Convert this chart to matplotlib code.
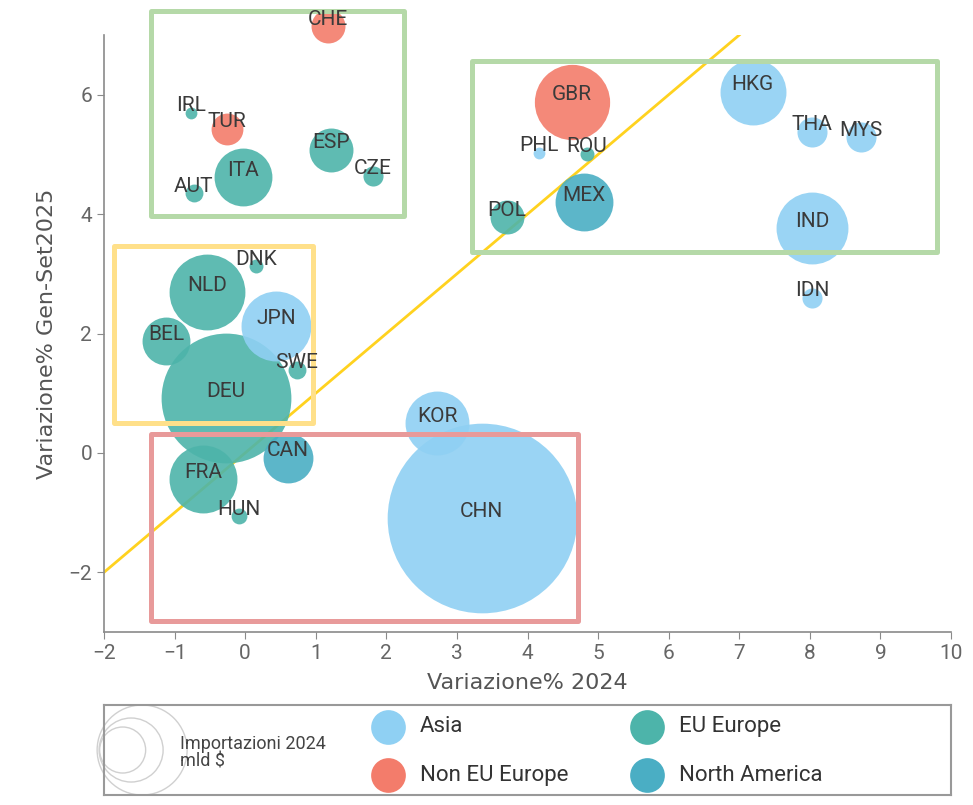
import numpy as np
import matplotlib
matplotlib.use('Agg')
import matplotlib.pyplot as plt
from matplotlib.patches import Rectangle

plt.rcParams['font.family'] = ['Roboto', 'DejaVu Sans']

# data
countries = ['CHN', 'DEU', 'NLD', 'GBR', 'IND', 'JPN', 'FRA', 'HKG', 'KOR', 'ITA',
             'MEX', 'CAN', 'BEL', 'ESP', 'POL', 'CHE', 'TUR', 'THA', 'MYS', 'IDN',
             'CZE', 'SWE', 'AUT', 'HUN', 'DNK', 'ROU', 'IRL', 'PHL']
var_2024 = [3.35, -0.27, -0.54, 4.63, 8.03, 0.44, -0.60, 7.19, 2.72, -0.03,
            4.80, 0.61, -1.12, 1.22, 3.71, 1.17, -0.26, 8.03, 8.72, 8.03,
            1.81, 0.73, -0.73, -0.09, 0.15, 4.84, -0.77, 4.16]
var_2025 = [-1.09, 0.92, 2.69, 5.88, 3.76, 2.13, -0.44, 6.05, 0.50, 4.62,
            4.20, -0.08, 1.87, 5.08, 3.95, 7.15, 5.43, 5.38, 5.29, 2.60,
            4.64, 1.39, 4.35, -1.06, 3.13, 5.01, 5.70, 5.03]
imports_2024 = [2590, 1213, 414, 408, 372, 352, 332, 313, 294, 241,
                241, 179, 165, 139, 83, 83, 73, 65, 65, 29,
                29, 23, 23, 18, 14, 14, 10, 10]
regions = ['Asia', 'EU Europe', 'EU Europe', 'Non EU Europe', 'Asia', 'Asia', 'EU Europe',
           'Asia', 'Asia', 'EU Europe', 'North America', 'North America', 'EU Europe',
           'EU Europe', 'EU Europe', 'Non EU Europe', 'Non EU Europe', 'Asia', 'Asia',
           'Asia', 'EU Europe', 'EU Europe', 'EU Europe', 'EU Europe', 'EU Europe',
           'EU Europe', 'EU Europe', 'Asia']

region_names = ['Asia', 'Non EU Europe', 'EU Europe', 'North America']
region_colors = {
    'Asia': '#8FD0F3',
    'EU Europe': '#4DB4AA',
    'Non EU Europe': '#F37C6B',
    'North America': '#4AAEC4',
}

# highlight boxes: (x0, y0, x1, y1) in data units, colour
highlight_boxes = [
    (-1.33, 3.97, 2.25, 7.41, '#B5D9A8'),
    (3.21, 3.36, 9.80, 6.57, '#B5D9A8'),
    (-1.86, 0.50, 0.96, 3.46, '#FFE08A'),
    (-1.33, -2.81, 4.71, 0.32, '#E89A9A'),
]

SIZE_SCALE = 7.2

fig = plt.figure(figsize=(9.73, 8.05), dpi=100)
ax = fig.add_axes([0.1069, 0.2149, 0.8705, 0.7416])

ax.plot([-2, 7], [-2, 7], color='#FFD21F', linewidth=2.0, zorder=2)

for i in np.argsort(imports_2024)[::-1]:
    ax.scatter(var_2024[i], var_2025[i], s=imports_2024[i] * SIZE_SCALE,
               color=region_colors[regions[i]], alpha=0.9, linewidths=0,
               zorder=3, clip_on=False)
    ax.annotate(countries[i], (var_2024[i], var_2025[i]), xytext=(0, 5),
                textcoords='offset points', ha='center', va='center',
                fontsize=15, color='#3a3a3a', zorder=5, annotation_clip=False)

for x0, y0, x1, y1, c in highlight_boxes:
    ax.add_patch(Rectangle((x0, y0), x1 - x0, y1 - y0, fill=False, edgecolor=c,
                           linewidth=3.6, joinstyle='round', zorder=4, clip_on=False))

ax.set_xlim(-2, 10)
ax.set_ylim(-3, 7)
ax.set_xticks(range(-2, 11))
ax.set_yticks(range(-2, 7, 2))
for s in ['top', 'right']:
    ax.spines[s].set_visible(False)
for s in ['left', 'bottom']:
    ax.spines[s].set_color('#8a8a8a')
    ax.spines[s].set_linewidth(1.2)
ax.tick_params(colors='#8a8a8a', labelcolor='#666666', labelsize=15, length=5)
ax.set_xlabel('Variazione% 2024', fontsize=16, color='#555555', labelpad=7,
              family='DejaVu Sans')
ax.set_ylabel('Variazione% Gen-Set2025', fontsize=16, color='#555555', labelpad=8,
              family='DejaVu Sans')

# legend panel
lax = fig.add_axes([0.1069, 0.0124, 0.8705, 0.1118])
lax.set_xlim(0, 1)
lax.set_ylim(0, 1)
lax.set_xticks([])
lax.set_yticks([])
for s in lax.spines.values():
    s.set_color('#999999')
    s.set_linewidth(1.5)

for cx, r in [(0.045, 45), (0.032, 32), (0.022, 23)]:
    lax.scatter(cx, 0.5, s=(2 * r * 0.72) ** 2, facecolor='none',
                edgecolor='#d0d0d0', linewidths=1, clip_on=False)
lax.text(0.09, 0.47, 'Importazioni 2024\nmld $', fontsize=13, color='#444444',
         va='center', ha='left', linespacing=0.9)

legend_pos = {
    'Asia': (0.335, 0.756),
    'Non EU Europe': (0.335, 0.222),
    'EU Europe': (0.641, 0.756),
    'North America': (0.641, 0.222),
}
for name in region_names:
    px, py = legend_pos[name]
    lax.plot(px, py, 'o', markersize=25, color=region_colors[name],
             markeredgewidth=0, clip_on=False)
    lax.text(px + 0.038, py, name, fontsize=16, color='#333333', va='center', ha='left')

fig.savefig('out.png', dpi=100)
